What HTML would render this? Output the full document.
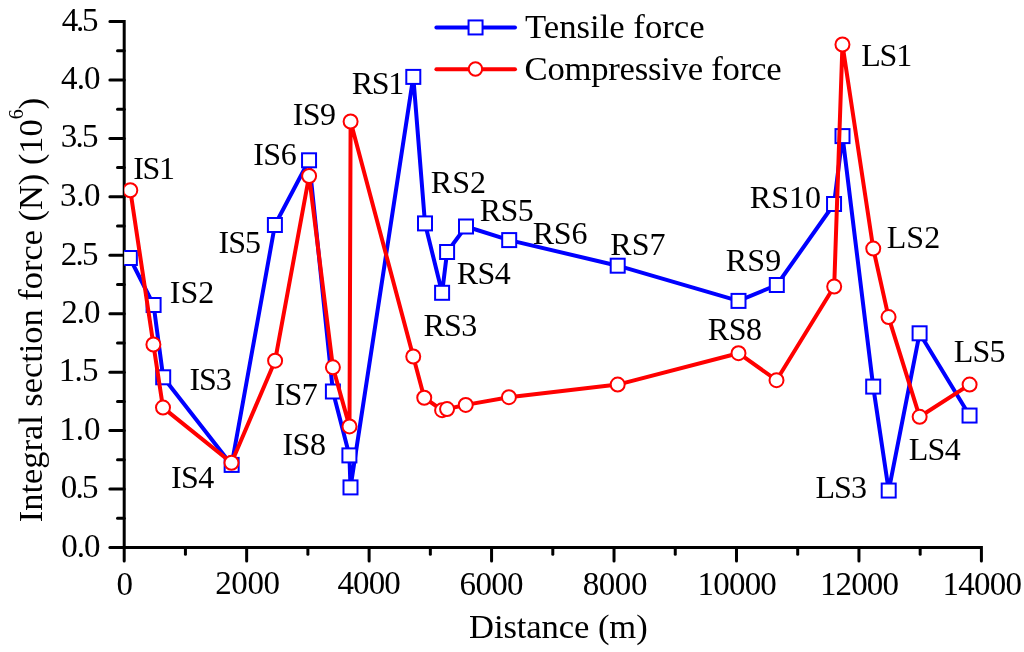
<!DOCTYPE html>
<html><head><meta charset="utf-8"><style>
html,body{margin:0;padding:0;background:#fff;}
svg{display:block;will-change:transform;}
text{font-family:"Liberation Serif",serif;fill:#000;}
</style></head><body>
<svg width="1024" height="652" viewBox="0 0 1024 652">
<rect width="1024" height="652" fill="#fff"/>
<g id="axes" stroke="#000" stroke-width="3" fill="none" stroke-linecap="round">
<path d="M109.90,21.50 L124.20,21.50 L124.20,547.50 L981.40,547.50 L981.40,561.10" stroke-linejoin="miter" stroke-linecap="round"/>
<line x1="109.90" y1="547.50" x2="124.20" y2="547.50"/>
<line x1="117.50" y1="518.28" x2="124.20" y2="518.28"/>
<line x1="109.90" y1="489.06" x2="124.20" y2="489.06"/>
<line x1="117.50" y1="459.83" x2="124.20" y2="459.83"/>
<line x1="109.90" y1="430.61" x2="124.20" y2="430.61"/>
<line x1="117.50" y1="401.39" x2="124.20" y2="401.39"/>
<line x1="109.90" y1="372.16" x2="124.20" y2="372.16"/>
<line x1="117.50" y1="342.94" x2="124.20" y2="342.94"/>
<line x1="109.90" y1="313.72" x2="124.20" y2="313.72"/>
<line x1="117.50" y1="284.50" x2="124.20" y2="284.50"/>
<line x1="109.90" y1="255.27" x2="124.20" y2="255.27"/>
<line x1="117.50" y1="226.05" x2="124.20" y2="226.05"/>
<line x1="109.90" y1="196.83" x2="124.20" y2="196.83"/>
<line x1="117.50" y1="167.61" x2="124.20" y2="167.61"/>
<line x1="109.90" y1="138.38" x2="124.20" y2="138.38"/>
<line x1="117.50" y1="109.16" x2="124.20" y2="109.16"/>
<line x1="109.90" y1="79.94" x2="124.20" y2="79.94"/>
<line x1="117.50" y1="50.72" x2="124.20" y2="50.72"/>
<line x1="124.20" y1="547.50" x2="124.20" y2="561.10"/>
<line x1="185.43" y1="547.50" x2="185.43" y2="554.20"/>
<line x1="246.66" y1="547.50" x2="246.66" y2="561.10"/>
<line x1="307.89" y1="547.50" x2="307.89" y2="554.20"/>
<line x1="369.11" y1="547.50" x2="369.11" y2="561.10"/>
<line x1="430.34" y1="547.50" x2="430.34" y2="554.20"/>
<line x1="491.57" y1="547.50" x2="491.57" y2="561.10"/>
<line x1="552.80" y1="547.50" x2="552.80" y2="554.20"/>
<line x1="614.03" y1="547.50" x2="614.03" y2="561.10"/>
<line x1="675.26" y1="547.50" x2="675.26" y2="554.20"/>
<line x1="736.49" y1="547.50" x2="736.49" y2="561.10"/>
<line x1="797.71" y1="547.50" x2="797.71" y2="554.20"/>
<line x1="858.94" y1="547.50" x2="858.94" y2="561.10"/>
<line x1="920.17" y1="547.50" x2="920.17" y2="554.20"/>
</g>
<text id="y0" font-size="33.00" x="100.50" y="557.00" text-anchor="end" textLength="39.35" lengthAdjust="spacing">0.0</text>
<text id="y1" font-size="33.00" x="98.50" y="498.33" text-anchor="end" textLength="37.85" lengthAdjust="spacing">0.5</text>
<text id="y2" font-size="33.00" x="100.50" y="439.66" text-anchor="end">1.0</text>
<text id="y3" font-size="33.00" x="98.50" y="380.99" text-anchor="end" textLength="39.85" lengthAdjust="spacing">1.5</text>
<text id="y4" font-size="33.00" x="100.50" y="323.32" text-anchor="end" textLength="39.35" lengthAdjust="spacing">2.0</text>
<text id="y5" font-size="33.00" x="98.50" y="264.65" text-anchor="end" textLength="37.85" lengthAdjust="spacing">2.5</text>
<text id="y6" font-size="33.00" x="100.50" y="205.98" text-anchor="end" textLength="40.45" lengthAdjust="spacing">3.0</text>
<text id="y7" font-size="33.00" x="98.50" y="147.31" text-anchor="end" textLength="37.85" lengthAdjust="spacing">3.5</text>
<text id="y8" font-size="33.00" x="100.50" y="88.64" text-anchor="end" textLength="39.45" lengthAdjust="spacing">4.0</text>
<text id="y9" font-size="33.00" x="98.50" y="30.97" text-anchor="end" textLength="36.85" lengthAdjust="spacing">4.5</text>
<text id="x0" font-size="33.00" x="124.70" y="594.50" text-anchor="middle" textLength="11.75" lengthAdjust="spacing">0</text>
<text id="x1" font-size="33.00" x="247.61" y="594.00" text-anchor="middle" textLength="64.88" lengthAdjust="spacing">2000</text>
<text id="x2" font-size="33.00" x="369.11" y="594.00" text-anchor="middle" textLength="63.30" lengthAdjust="spacing">4000</text>
<text id="x3" font-size="33.00" x="491.57" y="594.50" text-anchor="middle" textLength="64.10" lengthAdjust="spacing">6000</text>
<text id="x4" font-size="33.00" x="615.03" y="594.50" text-anchor="middle" textLength="64.80" lengthAdjust="spacing">8000</text>
<text id="x5" font-size="33.00" x="737.19" y="594.50" text-anchor="middle" textLength="79.30" lengthAdjust="spacing">10000</text>
<text id="x6" font-size="33.00" x="859.44" y="594.50" text-anchor="middle" textLength="78.90" lengthAdjust="spacing">12000</text>
<text id="x7" font-size="33.00" x="982.15" y="594.50" text-anchor="middle" textLength="79.50" lengthAdjust="spacing">14000</text>
<defs><clipPath id="c"><rect x="124.20" y="0" width="1000" height="652"/></clipPath></defs>
<g id="data" clip-path="url(#c)">
<polyline points="129.85,258.00 153.60,305.00 163.20,377.30 231.65,464.90 274.90,225.00 309.05,160.30 332.90,391.50 349.40,455.40 350.50,487.40 413.30,76.90 425.00,223.40 442.10,292.80 447.10,252.00 466.00,226.50 509.20,240.10 617.70,265.70 738.50,300.90 776.80,285.00 834.05,204.00 842.50,136.10 873.20,386.60 888.70,490.55 919.60,333.30 969.55,415.55" fill="none" stroke="#00f" stroke-width="4" stroke-linejoin="round"/>
<rect x="122.85" y="251.00" width="14" height="14" fill="#fff" stroke="#00f" stroke-width="2"/>
<rect x="146.60" y="298.00" width="14" height="14" fill="#fff" stroke="#00f" stroke-width="2"/>
<rect x="156.20" y="370.30" width="14" height="14" fill="#fff" stroke="#00f" stroke-width="2"/>
<rect x="224.65" y="457.90" width="14" height="14" fill="#fff" stroke="#00f" stroke-width="2"/>
<rect x="267.90" y="218.00" width="14" height="14" fill="#fff" stroke="#00f" stroke-width="2"/>
<rect x="302.05" y="153.30" width="14" height="14" fill="#fff" stroke="#00f" stroke-width="2"/>
<rect x="325.90" y="384.50" width="14" height="14" fill="#fff" stroke="#00f" stroke-width="2"/>
<rect x="342.40" y="448.40" width="14" height="14" fill="#fff" stroke="#00f" stroke-width="2"/>
<rect x="343.50" y="480.40" width="14" height="14" fill="#fff" stroke="#00f" stroke-width="2"/>
<rect x="406.30" y="69.90" width="14" height="14" fill="#fff" stroke="#00f" stroke-width="2"/>
<rect x="418.00" y="216.40" width="14" height="14" fill="#fff" stroke="#00f" stroke-width="2"/>
<rect x="435.10" y="285.80" width="14" height="14" fill="#fff" stroke="#00f" stroke-width="2"/>
<rect x="440.10" y="245.00" width="14" height="14" fill="#fff" stroke="#00f" stroke-width="2"/>
<rect x="459.00" y="219.50" width="14" height="14" fill="#fff" stroke="#00f" stroke-width="2"/>
<rect x="502.20" y="233.10" width="14" height="14" fill="#fff" stroke="#00f" stroke-width="2"/>
<rect x="610.70" y="258.70" width="14" height="14" fill="#fff" stroke="#00f" stroke-width="2"/>
<rect x="731.50" y="293.90" width="14" height="14" fill="#fff" stroke="#00f" stroke-width="2"/>
<rect x="769.80" y="278.00" width="14" height="14" fill="#fff" stroke="#00f" stroke-width="2"/>
<rect x="827.05" y="197.00" width="14" height="14" fill="#fff" stroke="#00f" stroke-width="2"/>
<rect x="835.50" y="129.10" width="14" height="14" fill="#fff" stroke="#00f" stroke-width="2"/>
<rect x="866.20" y="379.60" width="14" height="14" fill="#fff" stroke="#00f" stroke-width="2"/>
<rect x="881.70" y="483.55" width="14" height="14" fill="#fff" stroke="#00f" stroke-width="2"/>
<rect x="912.60" y="326.30" width="14" height="14" fill="#fff" stroke="#00f" stroke-width="2"/>
<rect x="962.55" y="408.55" width="14" height="14" fill="#fff" stroke="#00f" stroke-width="2"/>
<polyline points="130.30,190.25 153.40,344.50 163.00,407.60 231.50,462.80 275.10,360.70 309.10,176.00 332.90,367.30 349.50,426.40 350.60,121.50 413.25,356.50 424.25,397.75 442.10,410.20 447.05,409.05 465.75,404.90 508.90,397.20 617.70,384.60 738.50,353.20 776.50,380.20 834.20,286.50 842.45,44.50 873.25,248.55 888.55,317.10 919.65,416.80 969.60,384.60" fill="none" stroke="#f00" stroke-width="4" stroke-linejoin="round"/>
<circle cx="130.30" cy="190.25" r="7" fill="#fff" stroke="#f00" stroke-width="2"/>
<circle cx="153.40" cy="344.50" r="7" fill="#fff" stroke="#f00" stroke-width="2"/>
<circle cx="163.00" cy="407.60" r="7" fill="#fff" stroke="#f00" stroke-width="2"/>
<circle cx="231.50" cy="462.80" r="7" fill="#fff" stroke="#f00" stroke-width="2"/>
<circle cx="275.10" cy="360.70" r="7" fill="#fff" stroke="#f00" stroke-width="2"/>
<circle cx="309.10" cy="176.00" r="7" fill="#fff" stroke="#f00" stroke-width="2"/>
<circle cx="332.90" cy="367.30" r="7" fill="#fff" stroke="#f00" stroke-width="2"/>
<circle cx="349.50" cy="426.40" r="7" fill="#fff" stroke="#f00" stroke-width="2"/>
<circle cx="350.60" cy="121.50" r="7" fill="#fff" stroke="#f00" stroke-width="2"/>
<circle cx="413.25" cy="356.50" r="7" fill="#fff" stroke="#f00" stroke-width="2"/>
<circle cx="424.25" cy="397.75" r="7" fill="#fff" stroke="#f00" stroke-width="2"/>
<circle cx="442.10" cy="410.20" r="7" fill="#fff" stroke="#f00" stroke-width="2"/>
<circle cx="447.05" cy="409.05" r="7" fill="#fff" stroke="#f00" stroke-width="2"/>
<circle cx="465.75" cy="404.90" r="7" fill="#fff" stroke="#f00" stroke-width="2"/>
<circle cx="508.90" cy="397.20" r="7" fill="#fff" stroke="#f00" stroke-width="2"/>
<circle cx="617.70" cy="384.60" r="7" fill="#fff" stroke="#f00" stroke-width="2"/>
<circle cx="738.50" cy="353.20" r="7" fill="#fff" stroke="#f00" stroke-width="2"/>
<circle cx="776.50" cy="380.20" r="7" fill="#fff" stroke="#f00" stroke-width="2"/>
<circle cx="834.20" cy="286.50" r="7" fill="#fff" stroke="#f00" stroke-width="2"/>
<circle cx="842.45" cy="44.50" r="7" fill="#fff" stroke="#f00" stroke-width="2"/>
<circle cx="873.25" cy="248.55" r="7" fill="#fff" stroke="#f00" stroke-width="2"/>
<circle cx="888.55" cy="317.10" r="7" fill="#fff" stroke="#f00" stroke-width="2"/>
<circle cx="919.65" cy="416.80" r="7" fill="#fff" stroke="#f00" stroke-width="2"/>
<circle cx="969.60" cy="384.60" r="7" fill="#fff" stroke="#f00" stroke-width="2"/>
</g>
<text id="IS1" font-size="32.00" x="133.20" y="179.16" textLength="41.85" lengthAdjust="spacing">IS1</text>
<text id="IS2" font-size="32.00" x="169.80" y="302.65">IS2</text>
<text id="IS3" font-size="32.00" x="189.50" y="389.75" textLength="42.35" lengthAdjust="spacing">IS3</text>
<text id="IS4" font-size="32.00" x="171.10" y="488.30" textLength="43.15" lengthAdjust="spacing">IS4</text>
<text id="IS5" font-size="32.00" x="218.50" y="253.30" textLength="42.55" lengthAdjust="spacing">IS5</text>
<text id="IS6" font-size="32.00" x="253.16" y="165.00" textLength="43.57" lengthAdjust="spacing">IS6</text>
<text id="IS7" font-size="32.00" x="274.50" y="405.20" textLength="43.25" lengthAdjust="spacing">IS7</text>
<text id="IS8" font-size="32.00" x="282.40" y="455.20" textLength="43.55" lengthAdjust="spacing">IS8</text>
<text id="IS9" font-size="32.00" x="292.80" y="125.20" textLength="43.25" lengthAdjust="spacing">IS9</text>
<text id="RS1" font-size="32.00" x="351.70" y="94.00" textLength="52.54" lengthAdjust="spacing">RS1</text>
<text id="RS2" font-size="32.00" x="430.80" y="193.30" textLength="55.14" lengthAdjust="spacing">RS2</text>
<text id="RS3" font-size="32.00" x="423.50" y="335.80" textLength="53.64" lengthAdjust="spacing">RS3</text>
<text id="RS4" font-size="32.00" x="456.70" y="284.00" textLength="53.94" lengthAdjust="spacing">RS4</text>
<text id="RS5" font-size="32.00" x="479.80" y="221.10" textLength="53.94" lengthAdjust="spacing">RS5</text>
<text id="RS6" font-size="32.00" x="532.70" y="244.20" textLength="54.74" lengthAdjust="spacing">RS6</text>
<text id="RS7" font-size="32.00" x="610.30" y="254.90" textLength="55.14" lengthAdjust="spacing">RS7</text>
<text id="RS8" font-size="32.00" x="707.70" y="339.70" textLength="54.34" lengthAdjust="spacing">RS8</text>
<text id="RS9" font-size="32.00" x="725.80" y="270.60" textLength="55.34" lengthAdjust="spacing">RS9</text>
<text id="RS10" font-size="32.00" x="749.80" y="208.30" textLength="71.14" lengthAdjust="spacing">RS10</text>
<text id="LS1" font-size="32.00" x="861.30" y="66.10" textLength="50.84" lengthAdjust="spacing">LS1</text>
<text id="LS2" font-size="32.00" x="886.70" y="247.90" textLength="53.54" lengthAdjust="spacing">LS2</text>
<text id="LS3" font-size="32.00" x="815.50" y="497.90" textLength="51.44" lengthAdjust="spacing">LS3</text>
<text id="LS4" font-size="32.00" x="908.70" y="460.30" textLength="51.94" lengthAdjust="spacing">LS4</text>
<text id="LS5" font-size="32.00" x="953.70" y="362.00" textLength="51.74" lengthAdjust="spacing">LS5</text>
<g id="legend">
<line x1="436.4" y1="27.5" x2="515" y2="27.5" stroke="#00f" stroke-width="4" stroke-linecap="round"/>
<rect x="468.55" y="20.45" width="14" height="14" fill="#fff" stroke="#00f" stroke-width="2"/>
<line x1="436.4" y1="69.3" x2="515" y2="69.3" stroke="#f00" stroke-width="4" stroke-linecap="round"/>
<circle cx="475.45" cy="68.95" r="6.7" fill="#fff" stroke="#f00" stroke-width="2"/>
</g>
<text id="leg1" font-size="34.70" x="525.00" y="38.30" textLength="179.59" lengthAdjust="spacing">Tensile force</text>
<text id="leg2" font-size="34.70" x="524.50" y="79.90" textLength="257.05" lengthAdjust="spacing">Compressive force</text>
<text id="xt" font-size="34.60" x="469.00" y="638.00" textLength="178.65" lengthAdjust="spacing">Distance (m)</text>
<g transform="translate(42.0,522.2) rotate(-90)"><text id="yt" font-size="34.40" x="0.00" y="0.00">Integral section force (N) (10<tspan font-size="20" dy="-19.3">6</tspan><tspan dy="19.3">)</tspan></text></g>
</svg></body></html>
